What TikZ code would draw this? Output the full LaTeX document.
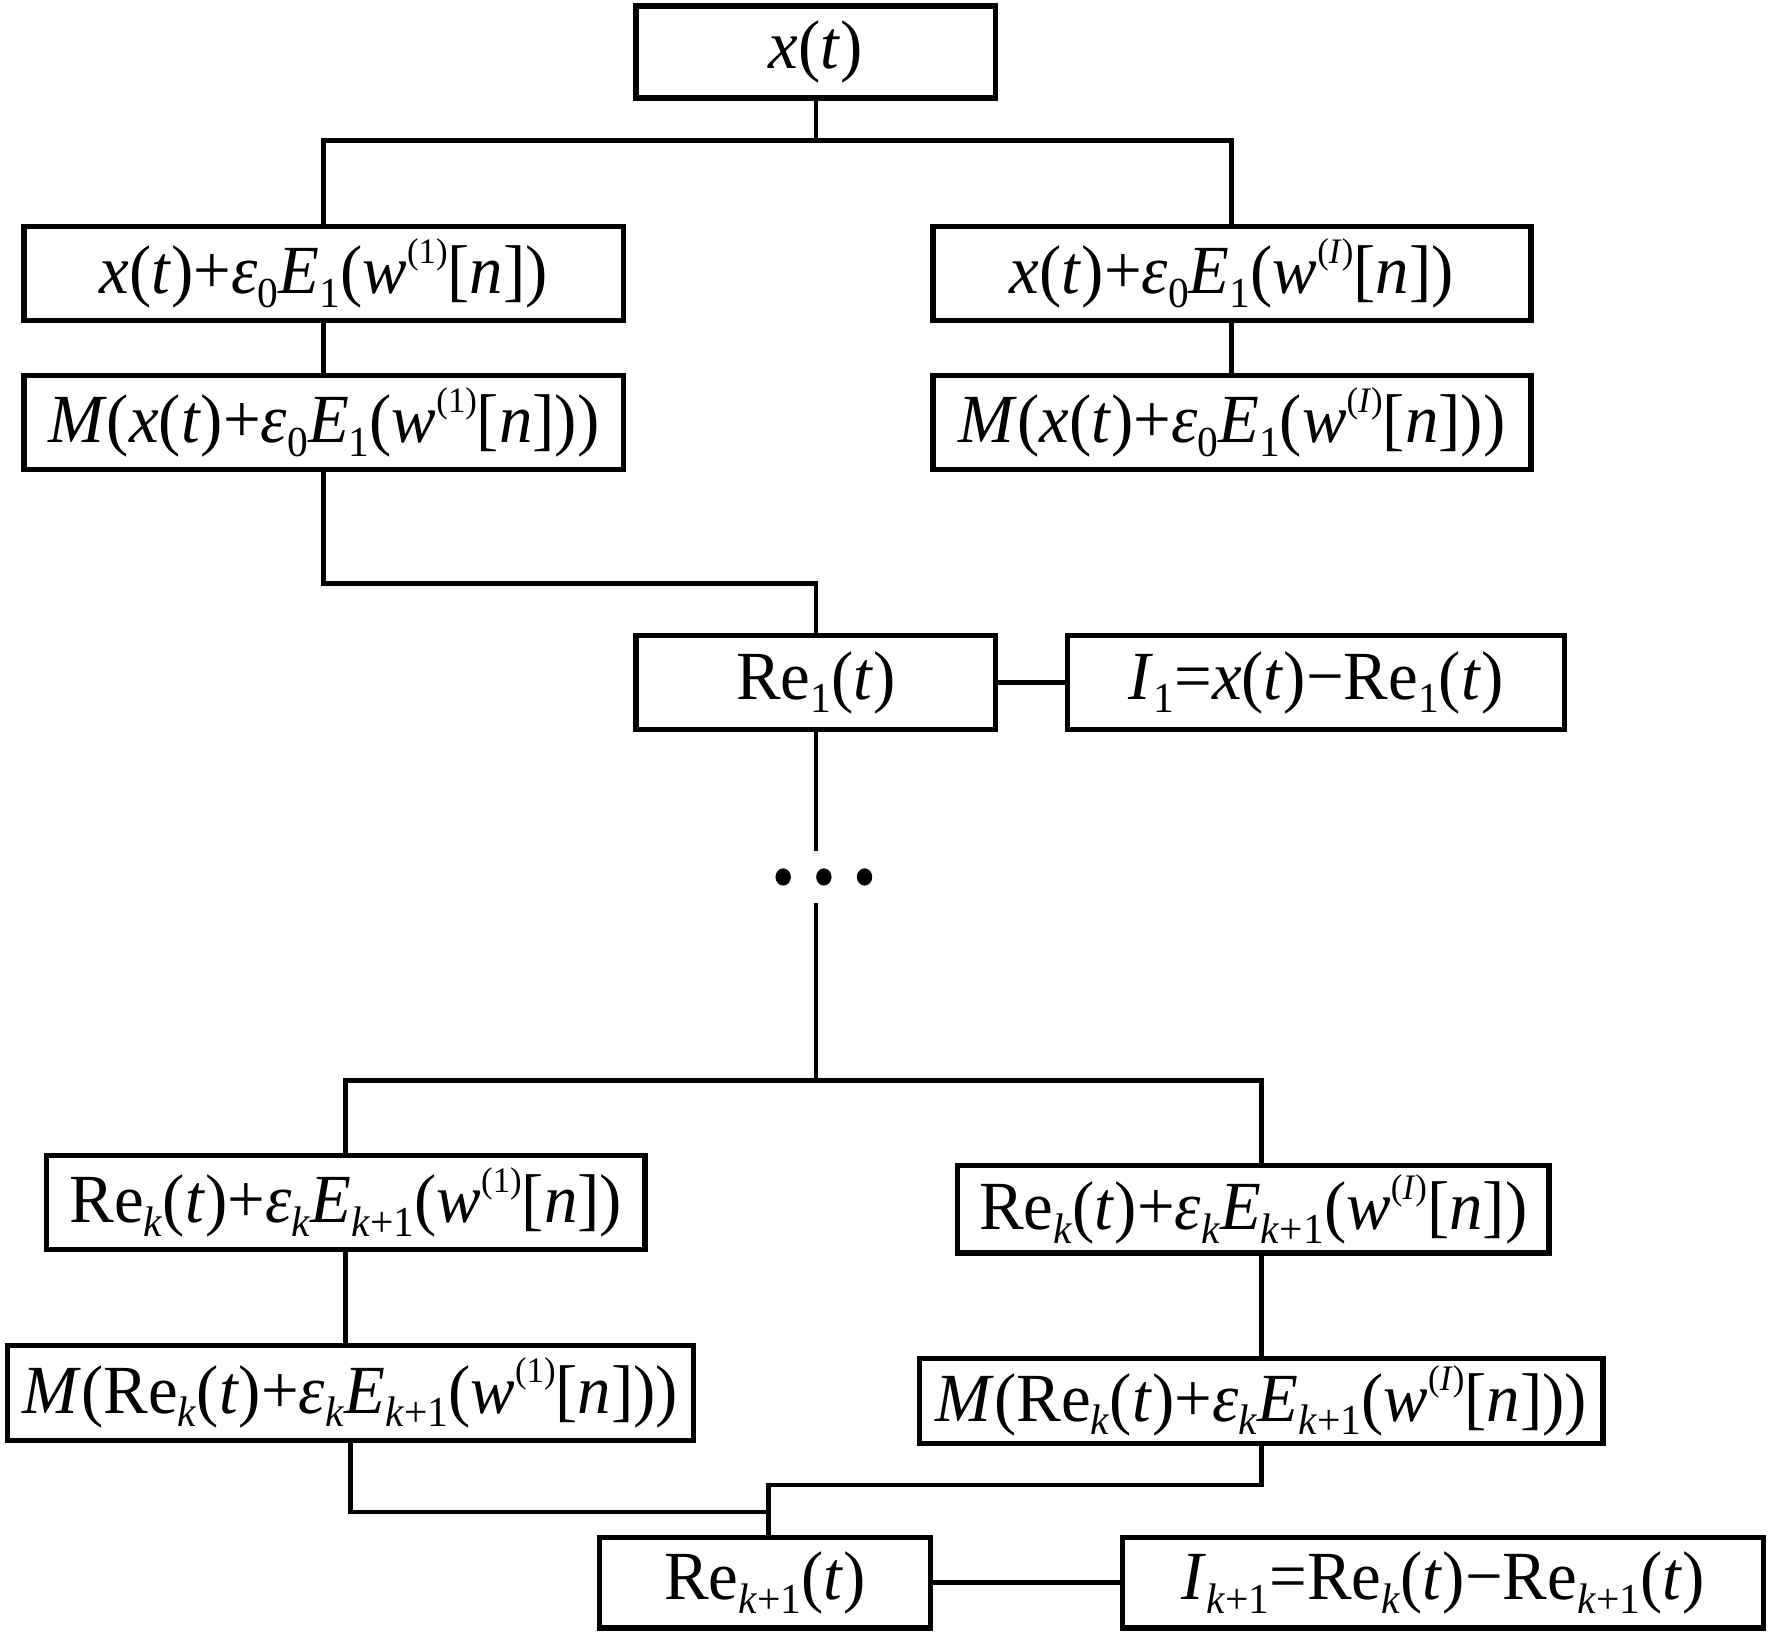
\documentclass[tikz,border=0pt]{standalone}
\usepackage{fontspec}
\setmainfont{Liberation Serif}[FakeStretch=0.97]
\usepackage{graphicx}
\usetikzlibrary{calc}
\newcommand\lo[1]{\raisebox{-0.2em}{\scalebox{0.62}{#1}}}
\newcommand\hi[1]{\raisebox{0.44em}{\scalebox{0.52}{#1}}}
\newcommand\vi[1]{\textit{#1}}
\begin{document}
\begin{tikzpicture}[x=0.5pt,y=-0.5pt,
  box/.style={draw, line width=2.4pt, inner sep=0pt, align=center,
    font=\fontsize{30.5}{33}\selectfont},
  bx/.style 2 args={box, minimum width=#1*0.5pt-2.4pt, minimum height=#2*0.5pt-2.4pt},
  wire/.style={line width=2.1pt}]
\fill[white] (0,0) rectangle (1568,1447);
\useasboundingbox (0,0) rectangle (1568,1447);

\node[bx={323}{86}] (top) at (722,46) {\vi{x}(\vi{t})};
\node[bx={535}{88}] (L1) at (286.5,242) {\vi{x}(\vi{t})+\vi{ε}\lo{0}\vi{E}\lo{1}(\vi{w}\hi{(1)}[\vi{n}])};
\node[bx={534}{88}] (R1) at (1090,242) {\vi{x}(\vi{t})+\vi{ε}\lo{0}\vi{E}\lo{1}(\vi{w}\hi{(\vi{I})}[\vi{n}])};
\node[bx={535}{88}] (L2) at (286.5,374) {\vi{M}(\vi{x}(\vi{t})+\vi{ε}\lo{0}\vi{E}\lo{1}(\vi{w}\hi{(1)}[\vi{n}]))};
\node[bx={534}{88}] (R2) at (1090,374) {\vi{M}(\vi{x}(\vi{t})+\vi{ε}\lo{0}\vi{E}\lo{1}(\vi{w}\hi{(\vi{I})}[\vi{n}]))};
\node[bx={323}{88}] (Re1) at (722,604) {Re\lo{1}(\vi{t})};
\node[bx={445}{88}] (I1) at (1164.5,604) {\vi{I}\lo{1}=\vi{x}(\vi{t})−Re\lo{1}(\vi{t})};
\node[inner sep=0pt, minimum width=45pt, minimum height=22.5pt] (dots) at (729,776) {};
\node[bx={534}{88}] (Lk) at (306,1064) {Re\lo{\vi{k}}(\vi{t})+\vi{ε}\lo{\vi{k}}\vi{E}\lo{\vi{k}+1}(\vi{w}\hi{(1)}[\vi{n}])};
\node[bx={528}{82}] (Rk) at (1109,1070) {Re\lo{\vi{k}}(\vi{t})+\vi{ε}\lo{\vi{k}}\vi{E}\lo{\vi{k}+1}(\vi{w}\hi{(\vi{I})}[\vi{n}])};
\node[bx={612}{89}] (LMk) at (310,1232.5) {\vi{M}(Re\lo{\vi{k}}(\vi{t})+\vi{ε}\lo{\vi{k}}\vi{E}\lo{\vi{k}+1}(\vi{w}\hi{(1)}[\vi{n}]))};
\node[bx={610}{80}] (RMk) at (1116,1239.5) {\vi{M}(Re\lo{\vi{k}}(\vi{t})+\vi{ε}\lo{\vi{k}}\vi{E}\lo{\vi{k}+1}(\vi{w}\hi{(\vi{I})}[\vi{n}]))};
\node[bx={298}{85}] (Rek1) at (677,1400.5) {Re\lo{\vi{k}+1}(\vi{t})};
\node[bx={572}{85}] (Ik1) at (1277,1400.5) {\vi{I}\lo{\vi{k}+1}=Re\lo{\vi{k}}(\vi{t})−Re\lo{\vi{k}+1}(\vi{t})};

% dots
\foreach \dx in {-36,0,36}
  \fill ($(dots.center)+(\dx,0)$) ellipse [x radius=3.4pt, y radius=3.8pt];

% connectors
\coordinate (j1) at (722,124);
\coordinate (j2) at (722,516);
\coordinate (j3) at (722,956);
\coordinate (m1) at (680,1314);
\coordinate (m2) at (680,1338);
\draw[wire] (top.south) -- (j1);
\draw[wire] (j1) -| (L1.north);
\draw[wire] (j1) -| (R1.north);
\draw[wire] (L1.south) -- (L2.north);
\draw[wire] (R1.south) -- (R2.north);
\draw[wire] (L2.south) |- (j2) -- (Re1.north);
\draw[wire] (Re1.east) -- (I1.west);
\draw[wire] (Re1.south) -- (Re1.south |- dots.north);
\draw[wire] (Re1.south |- dots.south) -- (j3);
\draw[wire] (j3) -| (Lk.north);
\draw[wire] (j3) -| (RMk.north |- Rk.north);
\draw[wire] (Lk.south) -- (Lk.south |- LMk.north);
\draw[wire] (RMk.north |- Rk.south) -- (RMk.north);
\draw[wire] (RMk.south) |- (m1) -- (m1 |- Rek1.north);
\draw[wire] (LMk.south) |- (m2);
\draw[wire] (Rek1.east) -- (Ik1.west);
\end{tikzpicture}
\end{document}
